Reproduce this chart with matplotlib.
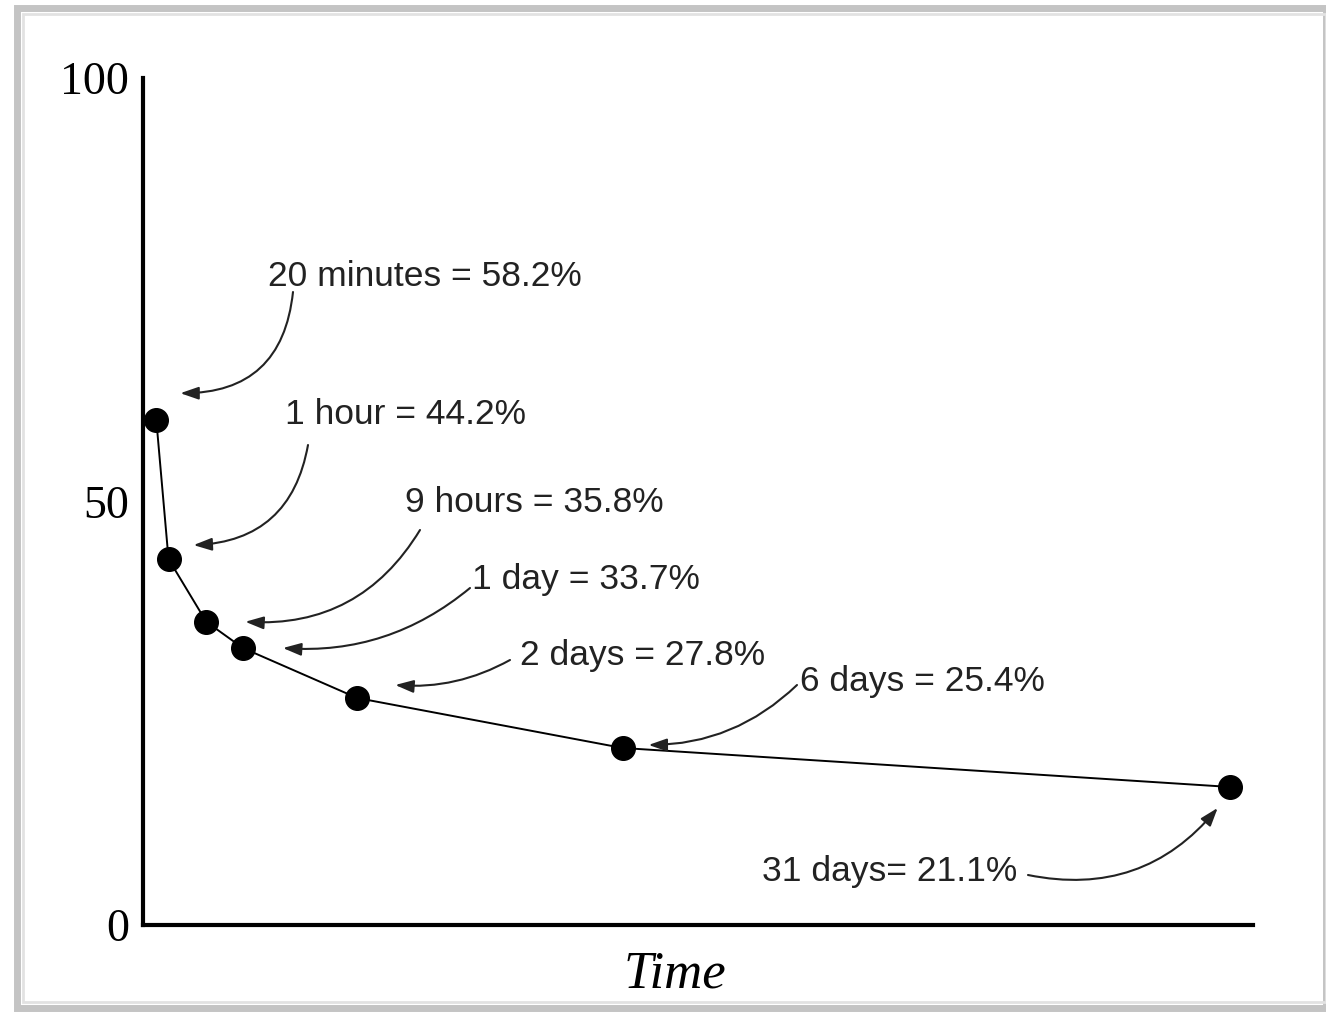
"""Forgetting curve: share of material retained over time."""

import matplotlib

matplotlib.use("Agg")
import matplotlib.pyplot as plt
from matplotlib.patches import Rectangle
from matplotlib.transforms import offset_copy

# data (time axis is schematic, 0..100)
time_pos = [1.2, 2.3, 5.7, 9.0, 19.3, 43.2, 97.9]
retained = [59.6, 43.2, 35.8, 32.7, 26.8, 20.9, 16.3]
labels = [
    "20 minutes = 58.2%",
    "1 hour = 44.2%",
    "9 hours = 35.8%",
    "1 day = 33.7%",
    "2 days = 27.8%",
    "6 days = 25.4%",
    "31 days= 21.1%",
]
y_ticks = [0, 50, 100]

W, H = 1326, 1016
SANS = ["Liberation Sans Narrow", "Liberation Sans", "DejaVu Sans"]
SERIF = ["Liberation Serif", "DejaVu Serif"]

# label placement (image px: left x, centre y), arrow start (image px),
# arrow tip offset from its point (px, y down), arc radius
label_pos = [(268, 277), (285, 415), (405, 503), (472, 580),
             (520, 656), (800, 682), (762, 872)]
arrow_start = [(293, 292), (308, 445), (420, 530), (470, 588),
               (510, 660), (797, 685), (1028, 875)]
tip_offset = [(24, -27), (25, -14), (39, 0), (40, 0),
              (38, -13), (26, -3), (-12, 21)]
arc_rad = [-0.45, -0.4, -0.3, -0.2, -0.15, -0.2, 0.3]

fig = plt.figure(figsize=(W / 100, H / 100), dpi=100)
ax = fig.add_axes([143 / W, 1 - 925 / H, (1253 - 143) / W, (925 - 78) / H])

ax.plot(time_pos, retained, color="black", lw=1.4, marker="o", ms=17,
        markerfacecolor="black", markeredgecolor="black", zorder=3)

ax.set_xlim(0, 100)
ax.set_ylim(0, 100)
ax.set_xticks([])
ax.set_yticks(y_ticks)
ax.set_yticklabels([str(t) for t in y_ticks], family=SERIF, fontsize=33)
ax.tick_params(axis="y", length=0, pad=10)
for side in ("top", "right"):
    ax.spines[side].set_visible(False)
for side in ("left", "bottom"):
    ax.spines[side].set_linewidth(3)
ax.set_xlabel("Time", family=SERIF, style="italic", fontsize=38, va="center")
ax.xaxis.set_label_coords(0.479, -0.059)

for i, text in enumerate(labels):
    lx, ly = label_pos[i]
    fig.text(lx / W, 1 - ly / H, text, family=SANS, fontsize=25.5,
             color="#222222", ha="left", va="center")
    dx, dy = tip_offset[i]
    tip = offset_copy(ax.transData, fig=fig, x=dx, y=-dy, units="dots")
    sx, sy = arrow_start[i]
    ax.annotate("", xy=(time_pos[i], retained[i]), xycoords=tip,
                xytext=(sx, H - sy), textcoords="figure pixels",
                arrowprops=dict(arrowstyle="-|>,head_length=1.1,head_width=0.38",
                                color="#222222", lw=1.5, shrinkA=0, shrinkB=0,
                                connectionstyle=f"arc3,rad={arc_rad[i]}"),
                annotation_clip=False)

# grey picture frame
fig.patches.append(Rectangle((17 / W, 8 / H), (W - 17) / W, (H - 16) / H,
                             transform=fig.transFigure, fill=False,
                             edgecolor="#c4c4c4", lw=5))
fig.patches.append(Rectangle((23 / W, 14 / H), (W - 23) / W, (H - 28) / H,
                             transform=fig.transFigure, fill=False,
                             edgecolor="#e2e2e2", lw=2))

fig.savefig("out.png", dpi=100)
